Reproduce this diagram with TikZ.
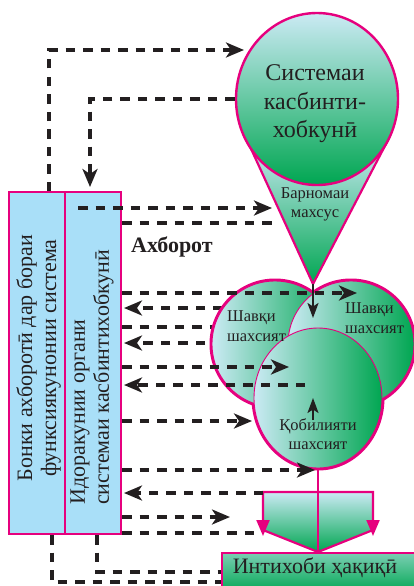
\documentclass[tikz,border=0pt]{standalone}
\usepackage{fontspec}
\setmainfont{Liberation Serif}
\usetikzlibrary{arrows.meta,shapes.geometric}
\definecolor{mag}{HTML}{E6007E}
\definecolor{grn}{HTML}{00A651}
\definecolor{lbl}{HTML}{CBEAF4}
\definecolor{boxb}{HTML}{A9DFF8}
\definecolor{ink}{HTML}{231F20}
\newcommand{\myfs}[2]{\fontsize{#1}{#2}\selectfont}
\begin{document}
\begin{tikzpicture}[x=1pt,y=-1pt,
  dl/.style={ink, line width=3.2pt, dash pattern=on 9.5pt off 8pt},
  ar/.style={dl, -{Stealth[length=18pt,width=15pt,inset=5pt]}},
  boxst/.style={draw=mag, line width=2pt, fill=boxb, inner sep=0pt},
  lbl/.style={text=ink, inner sep=0pt},
  solidar/.style={ink, line width=2.2pt, -{Stealth[length=15pt,width=11pt,inset=3.5pt]}},
  magline/.style={mag, line width=2.2pt}
]
\useasboundingbox (0,0) rectangle (414,586);
\clip (0,0) rectangle (414,586);

% left boxes
\node[boxst, minimum width=56pt, minimum height=342pt] (bk1) at (37,363) {};
\node[boxst, minimum width=56pt, minimum height=342pt] (bk2) at (93,363) {};
\node[lbl, rotate=90, align=center, font=\myfs{22}{24}] (bt1) at (38.5,358) {Бонки ахборотӣ дар бораи\\функсиякунонии система};
\node[lbl, rotate=90, anchor=west, align=left, font=\myfs{22}{24}] (bt2) at (92,505) {Идоракунии органи\\системаи касбинтихобкунӣ};

% coordinates
\coordinate (k1) at (49,50);
\coordinate (k1e) at (244,50);
\coordinate (k2) at (90,99);
\coordinate (k3) at (52,582);
\coordinate (k4) at (97,572);
\coordinate (h1s) at (78,208);
\coordinate (h1e) at (272,208);
\coordinate (h2) at (278,223);
\coordinate (h3) at (357,293);
\coordinate (h4) at (240,308);
\coordinate (h5) at (240,327);
\coordinate (h6) at (240,343);
\coordinate (h7) at (289,367);
\coordinate (h8) at (305,385);
\coordinate (h9) at (252,421);
\coordinate (h10) at (315,470);
\coordinate (h11) at (263,493);
\coordinate (h12) at (230,517);
\coordinate (h13) at (258,533);
\coordinate (ftl) at (247,140);
\coordinate (ftr) at (388,140);
\coordinate (ftip) at (313,284);
\coordinate (m1) at (313,318);
\coordinate (m2) at (313,420);
\coordinate (m3) at (313,398);
\coordinate (p1) at (263,492);
\coordinate (p2) at (373,492);
\coordinate (p3) at (373,530);
\coordinate (p4) at (318,552);
\coordinate (p5) at (263,530);
\coordinate (q1) at (263,536);
\coordinate (q2) at (373,536);

% funnel and top circle
\path[draw=mag, line width=2.2pt, top color=lbl, bottom color=grn] (ftl) -- (ftr) -- (ftip) -- cycle;
\node[ellipse, minimum width=162pt, minimum height=172pt, inner sep=0pt, draw=mag, line width=2.4pt, top color=lbl, bottom color=grn] (sys) at (317,99) {};
\node[lbl, align=center, font=\myfs{24}{28.5}] (syst) at (315,104) {Системаи\\касбинти-\\хобкунӣ};
\node[lbl, align=center, font=\myfs{16.5}{19}] (barn) at (315,204) {Барномаи\\махсус};

% dashed lines hidden by circles
\draw[ar, shorten >=2pt] (h4) -- (bk2.east |- h4);
\draw[dl] (bk2.east |- h5) -- (h5);
\draw[ar, shorten >=2pt] (h6) -- (bk2.east |- h6);

% three circles
\draw[mag, line width=5pt] (275,344) circle[radius=63];
\draw[mag, line width=5pt] (351,344) circle[radius=63];
\draw[mag, line width=5pt] (318,398) ellipse[x radius=64, y radius=70];
\node[circle, minimum size=126pt, inner sep=0pt, draw=mag, line width=0.9pt, left color=lbl, right color=grn] (c1) at (275,344) {};
\node[circle, minimum size=126pt, inner sep=0pt, draw=mag, line width=0.9pt, left color=lbl, right color=grn] (c2) at (351,344) {};
\node[ellipse, minimum width=128pt, minimum height=140pt, inner sep=0pt, draw=mag, line width=0.9pt, left color=lbl, right color=grn] (c3) at (318,398) {};
\node[lbl, anchor=west, align=left, font=\myfs{16.5}{20}] (sh1) at (227,326) {Шавқи\\шахсият};
\node[lbl, anchor=west, align=left, font=\myfs{16.5}{20}] (sh2) at (345,318) {Шавқи\\шахсият};
\node[lbl, align=center, font=\myfs{16.5}{18.5}] (qs) at (318,434) {Қобилияти\\шахсият};

% collector
\path[draw=mag, line width=2.2pt, line join=miter, top color=lbl, bottom color=grn] (p1) -- (p2) -- (p3) -- (p4) -- (p5) -- cycle;
\node[draw=mag, line width=2.4pt, top color=lbl!60!grn, bottom color=grn, minimum width=200pt, minimum height=40pt, anchor=north west, inner sep=0pt] (int) at (221,552) {};
\node[lbl, font=\myfs{22}{24}] (intt) at (315,568) {Интихоби ҳақиқӣ};
\draw[magline] (c3.south) -- (c3.south |- int.north);
\draw[magline, -{Triangle[length=16pt,width=13pt]}] (p1) -- (q1);
\draw[magline, -{Triangle[length=16pt,width=13pt]}] (p2) -- (q2);

% label
\node[lbl, font=\bfseries\myfs{22}{24}] (ax) at (172,247) {Ахборот};

% dashed connectors
\draw[ar] (bk1.north -| k1) -- (k1) -- (k1e);
\draw[ar, shorten >=4pt] (sys.west) -- (k2) -- (k2 |- bk2.north);
\draw[dl] (bk1.south -| k3) -- (k3) -- (k3 -| int.west);
\draw[dl] (bk2.south -| k4) -- (k4) -- (k4 -| int.west);
\draw[ar] (h1s) -- (h1e);
\draw[dl] (bk2.east |- h2) -- (h2);
\draw[ar] (bk2.east |- h3) -- (h3);
\draw[ar] (bk2.east |- h7) -- (h7);
\draw[ar, shorten >=2pt] (h8) -- (bk2.east |- h8);
\draw[ar] (bk2.east |- h9) -- (h9);
\draw[ar] (bk2.east |- h10) -- (h10);
\draw[ar, shorten >=2pt] (h11) -- (bk2.east |- h11);
\draw[ar] (bk2.east |- h12) -- (h12);
\draw[dl] (bk2.east |- h13) -- (h13);

% solid arrows in the circles
\draw[solidar] (ftip) -- (m1);
\draw[solidar] (m2) -- (m3);
\end{tikzpicture}
\end{document}
